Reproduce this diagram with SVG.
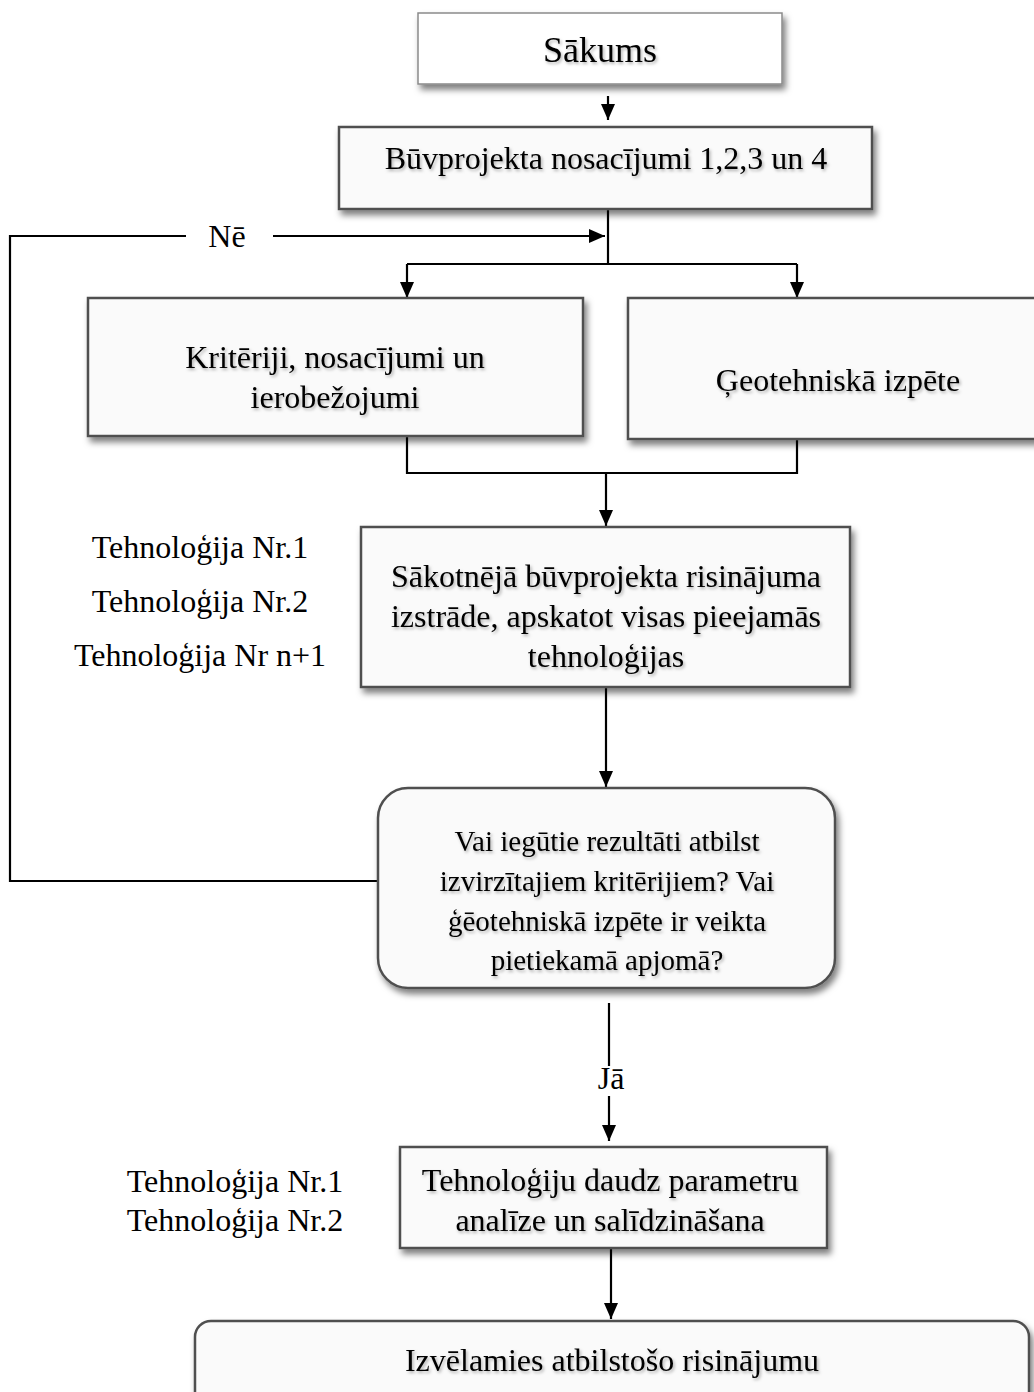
<svg xmlns="http://www.w3.org/2000/svg" width="1034" height="1392" viewBox="0 0 1034 1392">
<style>
.box{fill:#fafafa;stroke:#505050;stroke-width:2.5;filter:url(#sh)}
.start{fill:#ffffff;stroke:#8a8a8a;stroke-width:1.5;filter:url(#sh)}
.t{font-family:"Liberation Serif","Times New Roman",serif;font-size:32px;fill:#000;text-anchor:middle}
.bt{filter:url(#tsh)}
.d{font-size:29px}
.c{fill:none;stroke:#000;stroke-width:2.2}
.a{marker-end:url(#arr)}
</style>
<defs>
<filter id="sh" x="-10%" y="-10%" width="125%" height="135%">
<feDropShadow dx="3" dy="5" stdDeviation="3" flood-color="#000" flood-opacity="0.5"/>
</filter>
<filter id="tsh" x="-5%" y="-20%" width="110%" height="150%">
<feDropShadow dx="1.5" dy="2" stdDeviation="1.5" flood-color="#000" flood-opacity="0.3"/>
</filter>
<marker id="arr" markerUnits="userSpaceOnUse" markerWidth="16" markerHeight="14" refX="16" refY="7" orient="auto">
<path d="M0,0 L16,7 L0,14 z" fill="#000"/>
</marker>
</defs>

<g id="connectors">
<path class="c a" d="M608,96 V120"/>
<path class="c" d="M608,209 V264"/>
<path class="c" d="M407,264 H797"/>
<path class="c a" d="M407,264 V298"/>
<path class="c a" d="M797,264 V298"/>
<path class="c" d="M407,436 V473 H797 V439"/>
<path class="c a" d="M606,473 V526"/>
<path class="c a" d="M606,687 V787"/>
<path class="c" d="M378,881 H10 V236 H186"/>
<path class="c a" d="M273,236 H605"/>
<text class="t" x="227" y="247">Nē</text>
<path class="c" d="M609,1003 V1066"/>
<text class="t" x="611" y="1089">Jā</text>
<path class="c a" d="M609,1096 V1141"/>
<path class="c a" d="M611,1248 V1319"/>
</g>

<g id="sakums">
<rect class="start" x="418" y="13" width="364" height="71"/>
<text class="t bt" x="600" y="62" style="font-size:36px">Sākums</text>
</g>

<g id="buvprojekta">
<rect class="box" x="339" y="127" width="533" height="82"/>
<text class="t bt" x="606" y="169">Būvprojekta nosacījumi 1,2,3 un 4</text>
</g>

<g id="kriteriji">
<rect class="box" x="88" y="298" width="495" height="138"/>
<text class="t bt" x="335" y="368">Kritēriji, nosacījumi un</text>
<text class="t bt" x="335" y="408">ierobežojumi</text>
</g>

<g id="geotehniska">
<rect class="box" x="628" y="298" width="420" height="141"/>
<text class="t bt" x="838" y="391">Ģeotehniskā izpēte</text>
</g>

<g id="tech-labels-1">
<text class="t" x="200" y="558">Tehnoloģija Nr.1</text>
<text class="t" x="200" y="612">Tehnoloģija Nr.2</text>
<text class="t" x="200" y="666">Tehnoloģija Nr n+1</text>
</g>

<g id="sakotneja">
<rect class="box" x="361" y="527" width="489" height="160"/>
<text class="t bt" x="606" y="587">Sākotnējā būvprojekta risinājuma</text>
<text class="t bt" x="606" y="627">izstrāde, apskatot visas pieejamās</text>
<text class="t bt" x="606" y="667">tehnoloģijas</text>
</g>

<g id="decision">
<rect class="box" x="378" y="788" width="457" height="200" rx="30" ry="30"/>
<text class="t d bt" x="607" y="851">Vai iegūtie rezultāti atbilst</text>
<text class="t d bt" x="607" y="891">izvirzītajiem kritērijiem? Vai</text>
<text class="t d bt" x="607" y="931">ģēotehniskā izpēte ir veikta</text>
<text class="t d bt" x="607" y="970">pietiekamā apjomā?</text>
</g>

<g id="tech-labels-2">
<text class="t" x="235" y="1192">Tehnoloģija Nr.1</text>
<text class="t" x="235" y="1231">Tehnoloģija Nr.2</text>
</g>

<g id="analize">
<rect class="box" x="400" y="1147" width="427" height="101"/>
<text class="t bt" x="610" y="1191">Tehnoloģiju daudz parametru</text>
<text class="t bt" x="610" y="1231">analīze un salīdzināšana</text>
</g>

<g id="izvelamies">
<rect class="box" x="195" y="1321" width="834" height="90" rx="16" ry="16"/>
<text class="t bt" x="612" y="1371">Izvēlamies atbilstošo risinājumu</text>
</g>
</svg>
